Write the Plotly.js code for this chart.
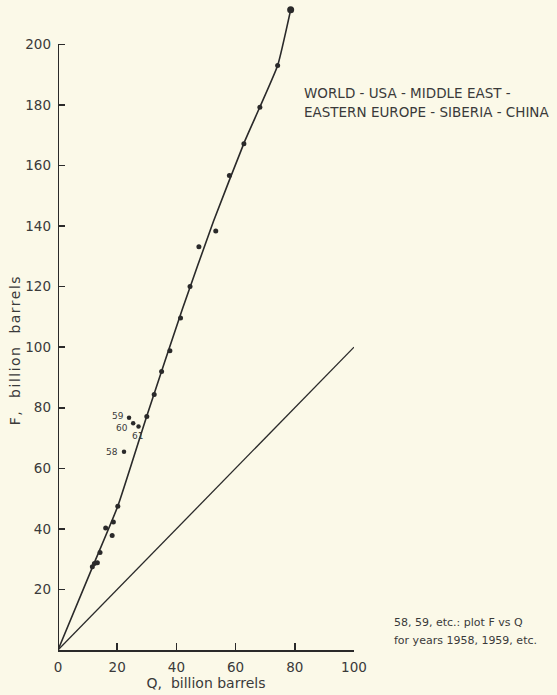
<!DOCTYPE html>
<html>
<head>
<meta charset="utf-8">
<script src="https://cdn.plot.ly/plotly-3.0.1.min.js"></script>
<style>
html,body{margin:0;padding:0;background:#fbf9e8;}
#chart{width:557px;height:695px;}
.annotation[data-index="0"] text{letter-spacing:1.5px;}
</style>
</head>
<body>
<div id="chart"></div>
<script>
// Observed annual points (Q = cumulative production, F = cumulative discoveries), billion barrels
const obsQ = [11.6, 12.3, 13.3, 14.2, 16.1, 18.3, 18.7, 20.2, 30.0, 32.5, 35.0, 37.8, 41.4, 44.6, 47.6, 53.3, 57.9, 62.8, 68.2, 74.2];
const obsF = [27.5, 28.6, 28.8, 32.2, 40.3, 37.8, 42.3, 47.5, 77.1, 84.4, 92.0, 98.8, 109.6, 120.0, 133.2, 138.4, 156.7, 167.2, 179.2, 193.0];
// Latest (end) point
const endQ = [78.6];
const endF = [211.4];
// Labelled years 1958-1961
const yearQ = [22.3, 24.0, 25.4, 27.2];
const yearF = [65.5, 76.7, 74.9, 73.8];
const yearLabels = ['58', '59', '60', '61'];
// Hand-drawn trend curve through the points
const curveQ = [0, 12.0, 20.2, 30.0, 42.0, 52.5, 63.0, 68.2, 74.2, 78.6];
const curveF = [0, 28.2, 47.5, 77.3, 112.5, 141.5, 167.8, 179.3, 193.0, 211.4];
// Reference line F = Q
const diagQ = [0, 100];
const diagF = [0, 100];
// Ticks
const xTicks = [0, 20, 40, 60, 80, 100];
const yTicks = [20, 40, 60, 80, 100, 120, 140, 160, 180, 200];

const ink = '#2a2a2a';
const txt = '#3a3a3a';
const fam = 'DejaVu Sans, sans-serif';

const traces = [
  {x: diagQ, y: diagF, mode: 'lines', line: {color: ink, width: 1.3}, hoverinfo: 'skip'},
  {x: curveQ, y: curveF, mode: 'lines', line: {color: ink, width: 1.6, shape: 'spline', smoothing: 0.45}, hoverinfo: 'skip'},
  {x: obsQ, y: obsF, mode: 'markers', marker: {color: ink, size: 5}},
  {x: endQ, y: endF, mode: 'markers', marker: {color: ink, size: 7}, cliponaxis: false},
  {x: yearQ, y: yearF, mode: 'markers', marker: {color: ink, size: 4.5}}
];

// label placement relative to each year point (pixel offsets)
const yearLabelStyle = [
  {xanchor: 'right', xshift: -5, yshift: 0},
  {xanchor: 'right', xshift: -4, yshift: 1.5},
  {xanchor: 'right', xshift: -4, yshift: -4.5},
  {xanchor: 'left', xshift: -8, yshift: -9.5}
];

const annotations = [
  {text: 'F,  billion  barrels', textangle: -90, xref: 'paper', yref: 'y', x: -0.145, y: 99,
   xanchor: 'center', yanchor: 'middle', showarrow: false, font: {family: fam, size: 14, color: txt}},
  {text: 'WORLD - USA - MIDDLE EAST -', xref: 'paper', yref: 'paper', x: 0.824, y: 0.8636,
   xanchor: 'left', yanchor: 'middle', showarrow: false, font: {family: fam, size: 13.5, color: txt}},
  {text: 'EASTERN EUROPE - SIBERIA - CHINA', xref: 'paper', yref: 'paper', x: 0.824, y: 0.8341,
   xanchor: 'left', yanchor: 'middle', showarrow: false, font: {family: fam, size: 13.5, color: txt}},
  {text: '58, 59, etc.: plot F vs Q', xref: 'paper', yref: 'paper', x: 1.128, y: 0.0419,
   xanchor: 'left', yanchor: 'middle', showarrow: false, font: {family: fam, size: 11, color: txt}},
  {text: 'for years 1958, 1959, etc.', xref: 'paper', yref: 'paper', x: 1.128, y: 0.0155,
   xanchor: 'left', yanchor: 'middle', showarrow: false, font: {family: fam, size: 11, color: txt}}
];
yearLabels.forEach((lab, i) => {
  const s = yearLabelStyle[i];
  annotations.push({text: lab, xref: 'x', yref: 'y', x: yearQ[i], y: yearF[i],
    xanchor: s.xanchor, yanchor: 'middle', xshift: s.xshift, yshift: s.yshift,
    showarrow: false, borderpad: 0, font: {family: fam, size: 9, color: txt}});
});

const layout = {
  width: 557, height: 695,
  margin: {l: 58, r: 203, t: 5, b: 45},
  paper_bgcolor: '#fbf9e8',
  plot_bgcolor: 'rgba(0,0,0,0)',
  showlegend: false,
  font: {family: fam, color: txt},
  xaxis: {
    range: [0, 100], tickvals: xTicks, ticktext: xTicks.map(String),
    showgrid: false, zeroline: false, showline: true, linecolor: ink, linewidth: 2,
    ticks: 'inside', ticklen: 7, tickwidth: 1.5, tickcolor: ink,
    tickfont: {family: fam, size: 13.5, color: txt}, ticklabelstandoff: 4,
    title: {text: 'Q,  billion barrels', font: {family: fam, size: 14, color: txt}, standoff: 1}
  },
  yaxis: {
    range: [0, 213], tickvals: yTicks, ticktext: yTicks.map(String),
    showgrid: false, zeroline: false, showline: false,
    ticks: 'inside', ticklen: 7, tickwidth: 1.5, tickcolor: ink,
    tickfont: {family: fam, size: 13.5, color: txt}, ticklabelstandoff: 6
  },
  shapes: [
    {type: 'line', xref: 'x', yref: 'y', x0: 0, x1: 0, y0: 0, y1: 200, line: {color: ink, width: 2}}
  ],
  annotations: annotations
};

Plotly.newPlot('chart', traces, layout, {displayModeBar: false, staticPlot: true});
</script>
</body>
</html>
